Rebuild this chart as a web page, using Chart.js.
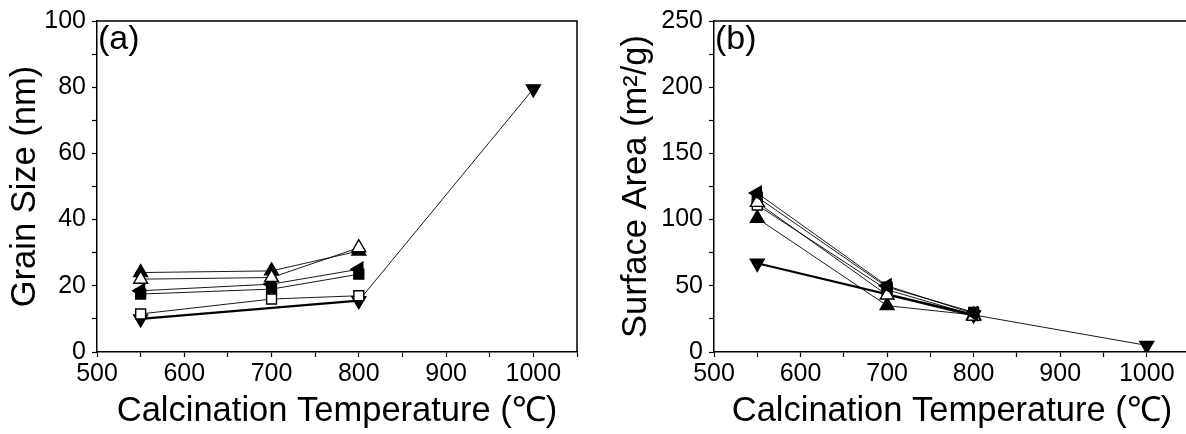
<!DOCTYPE html>
<html>
<head>
<meta charset="utf-8">
<script src="https://cdn.jsdelivr.net/npm/chart.js@4.4.0/dist/chart.umd.min.js"></script>
<style>
  html, body { margin: 0; padding: 0; background: #fff; overflow: hidden; }
  body { width: 1186px; height: 434px; position: relative; }
  #chartA { position: absolute; left: 0; top: 0; }
  #chartB { position: absolute; left: 600px; top: 0; }
</style>
</head>
<body>
<canvas id="chartA" width="600" height="434"></canvas>
<canvas id="chartB" width="620" height="434"></canvas>
<script>
// calcination temperatures (C)
const temps = [550, 700, 800];
const tempsDown = [550, 800, 1000];

// (a) grain size, nm
const grainOpenUp = [22, 22.5, 31.5];
const grainFilledLeft = [18.5, 20.5, 25];
const grainOpenSquare = [11.5, 16, 17];
const grainFilledSquare = [17.5, 19, 23.5];
const grainFilledUp = [24, 24.5, 30.5];
const grainFilledDown = [10, 15.5, 79.5];

// (b) surface area, m2/g
const areaFilledLeft = [120, 50, 29];
const areaOpenUp = [113, 43, 27];
const areaFilledSquare = [117, 49, 30];
const areaOpenSquare = [111, 47, 28];
const areaFilledUp = [101, 35, 28];
const areaFilledDown = [67, 28, 5];

// tick labels
const xTicks = [500, 600, 700, 800, 900, 1000];
const grainTicks = [0, 20, 40, 60, 80, 100];
const areaTicks = [0, 50, 100, 150, 200, 250];

const FONT = '"Liberation Sans", Arial, sans-serif';

function series(xs, ys, style, rot, filled, lineW) {
  const r = style === 'rect' ? 7 : 8;
  return {
    data: xs.map((x, i) => ({ x: x, y: ys[i] })),
    pointStyle: style,
    rotation: rot,
    pointRadius: r,
    pointHoverRadius: r,
    pointBackgroundColor: filled ? '#000' : '#fff',
    pointBorderColor: '#000',
    pointBorderWidth: 1.4,
    borderColor: '#000',
    borderWidth: 0.9,
    // only the first stretch of the down-triangle curve is drawn heavy
    segment: { borderWidth: c => (lineW > 1 && c.p0DataIndex === 0) ? lineW : 0.9 },
    fill: false,
    tension: 0
  };
}

// frame on top/right and the panel letter
const framePlugin = {
  id: 'frame',
  afterDraw(chart, args, opts) {
    const ctx = chart.ctx;
    const a = chart.chartArea;
    ctx.save();
    ctx.strokeStyle = '#000';
    ctx.lineWidth = 1.5;
    ctx.beginPath();
    ctx.moveTo(a.left, a.top);
    ctx.lineTo(a.right, a.top);
    ctx.lineTo(a.right, a.bottom);
    ctx.stroke();
    ctx.fillStyle = '#000';
    ctx.font = '34px ' + FONT;
    ctx.textBaseline = 'top';
    ctx.textAlign = 'left';
    ctx.fillText(opts.label, a.left + 1, a.top + 2);
    ctx.restore();
  }
};

function makeChart(id, datasets, yTitle, yMax, yStep, yTicks, yWidth, padRight, titlePad, label) {
  return new Chart(document.getElementById(id), {
    type: 'line',
    data: { datasets: datasets },
    plugins: [framePlugin],
    options: {
      responsive: false,
      animation: false,
      layout: { padding: { top: 21, right: padRight, bottom: 0, left: 0 } },
      plugins: {
        legend: { display: false },
        tooltip: { enabled: false },
        frame: { label: label }
      },
      scales: {
        x: {
          type: 'linear',
          min: 500,
          max: 1050,
          afterFit: s => { s.height = 82; },
          ticks: {
            stepSize: 50,
            autoSkip: false,
            maxRotation: 0,
            padding: 2,
            color: '#000',
            font: { family: FONT, size: 25 },
            callback: v => xTicks.includes(v) ? String(v) : ''
          },
          grid: { drawOnChartArea: false, tickLength: 5, color: '#000', tickWidth: 1.2 },
          border: { color: '#000', width: 1.5 },
          title: {
            display: true,
            text: 'Calcination Temperature (\u2103)',
            color: '#000',
            font: { family: FONT, size: 34.5 },
            padding: { top: 0, bottom: 2 }
          }
        },
        y: {
          min: 0,
          max: yMax,
          afterFit: s => { s.width = yWidth; },
          ticks: {
            stepSize: yStep,
            autoSkip: false,
            padding: 6,
            color: '#000',
            font: { family: FONT, size: 25 },
            callback: v => yTicks.includes(v) ? String(v) : ''
          },
          grid: { drawOnChartArea: false, tickLength: 5, color: '#000', tickWidth: 1.2 },
          border: { color: '#000', width: 1.5 },
          title: {
            display: true,
            text: yTitle,
            color: '#000',
            font: { family: FONT, size: 34.5 },
            padding: { top: titlePad, bottom: 0 }
          }
        }
      }
    }
  });
}

window.addEventListener('DOMContentLoaded', () => {
  makeChart('chartA', [
    series(temps, grainOpenUp, 'triangle', 0, false, 1),
    series(temps, grainFilledLeft, 'triangle', 270, true, 1),
    series(temps, grainOpenSquare, 'rect', 0, false, 1),
    series(temps, grainFilledSquare, 'rect', 0, true, 1),
    series(temps, grainFilledUp, 'triangle', 0, true, 1),
    series(tempsDown, grainFilledDown, 'triangle', 180, true, 2.2)
  ], 'Grain Size (nm)', 100, 10, grainTicks, 97, 23, 5, '(a)');

  makeChart('chartB', [
    series(temps, areaFilledLeft, 'triangle', 270, true, 1),
    series(temps, areaOpenUp, 'triangle', 0, false, 1),
    series(temps, areaFilledSquare, 'rect', 0, true, 1),
    series(temps, areaOpenSquare, 'rect', 0, false, 1),
    series(temps, areaFilledUp, 'triangle', 0, true, 1),
    series(tempsDown, areaFilledDown, 'triangle', 180, true, 2.2)
  ], 'Surface Area (m\u00b2/g)', 250, 25, areaTicks, 114, 30, 16, '(b)');
});
</script>
</body>
</html>
